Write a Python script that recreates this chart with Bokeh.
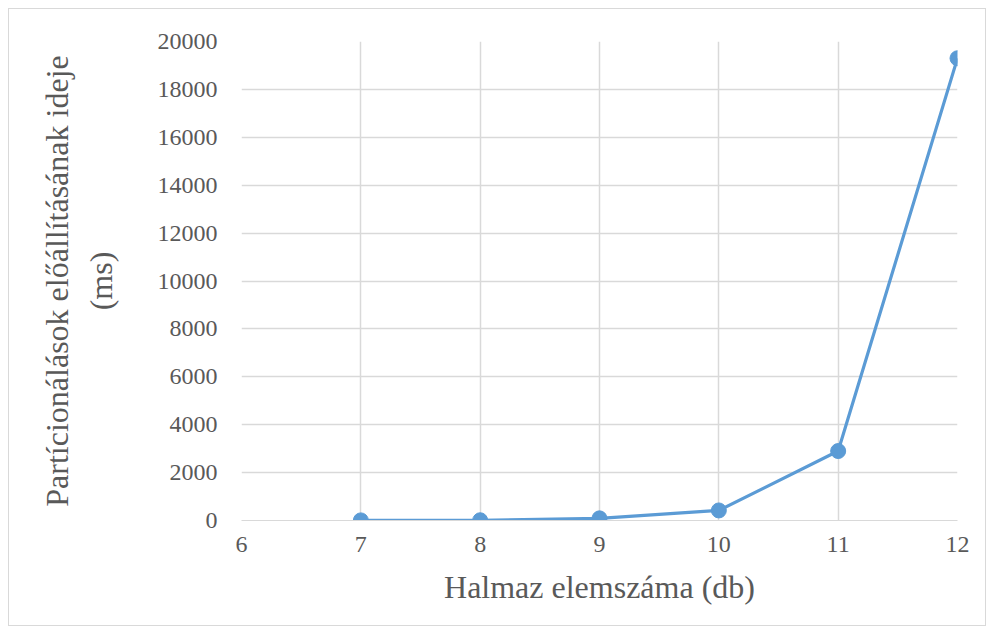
from bokeh.plotting import figure
from bokeh.models import ColumnDataSource, FixedTicker, Range1d
from bokeh.embed import file_html
from bokeh.resources import INLINE

# data
set_sizes = [7, 8, 9, 10, 11, 12]
times_ms = [5, 10, 90, 420, 2900, 19300]
x_ticks = [6, 7, 8, 9, 10, 11, 12]
y_ticks = [0, 2000, 4000, 6000, 8000, 10000, 12000, 14000, 16000, 18000, 20000]
x_title = "Halmaz elemszáma (db)"
y_title = "Partícionálások előállításának ideje\n(ms)"

src = ColumnDataSource(dict(x=set_sizes, y=times_ms))

p = figure(width=978, height=618, output_backend="svg", toolbar_location=None,
           x_range=Range1d(6, 12), y_range=Range1d(0, 20000),
           min_border_left=232, min_border_right=30, min_border_top=32,
           min_border_bottom=107, margin=(8, 0, 0, 8))
p.styles = {"border": "1px solid #d9d9d9", "box-sizing": "border-box"}
p.outline_line_color = None
p.background_fill_color = "white"
p.border_fill_color = "white"

p.line("x", "y", source=src, line_color="#5B9BD5", line_width=3.2)
p.scatter("x", "y", source=src, size=15, fill_color="#5B9BD5", line_color="#5B9BD5")

font = "'Liberation Serif', 'Times New Roman', serif"
p.xaxis.ticker = FixedTicker(ticks=x_ticks)
p.yaxis.ticker = FixedTicker(ticks=y_ticks)
for ax in (p.xaxis, p.yaxis):
    ax.major_tick_line_color = None
    ax.minor_tick_line_color = None
    ax.major_label_text_font = font
    ax.major_label_text_font_size = "24px"
    ax.major_label_text_color = "#595959"
    ax.axis_label_text_font = font
    ax.axis_label_text_font_size = "32px"
    ax.axis_label_text_font_style = "normal"
    ax.axis_label_text_color = "#595959"
p.xaxis.axis_line_color = "#d9d9d9"
p.yaxis.axis_line_color = None
p.xaxis.major_label_standoff = 10
p.yaxis.major_label_standoff = 18
p.xaxis.axis_label = x_title
p.yaxis.axis_label = y_title
p.xaxis.axis_label_standoff = 14
p.yaxis.axis_label_standoff = 36
p.xaxis.axis_label_align = "center"
p.yaxis.axis_label_align = "center"

p.xgrid.ticker = FixedTicker(ticks=x_ticks)
p.ygrid.ticker = FixedTicker(ticks=y_ticks)
p.xgrid.grid_line_color = "#d9d9d9"
p.ygrid.grid_line_color = "#d9d9d9"
p.xgrid.grid_line_width = 1.5
p.ygrid.grid_line_width = 1.5

open("out.html", "w").write(file_html(p, INLINE))
